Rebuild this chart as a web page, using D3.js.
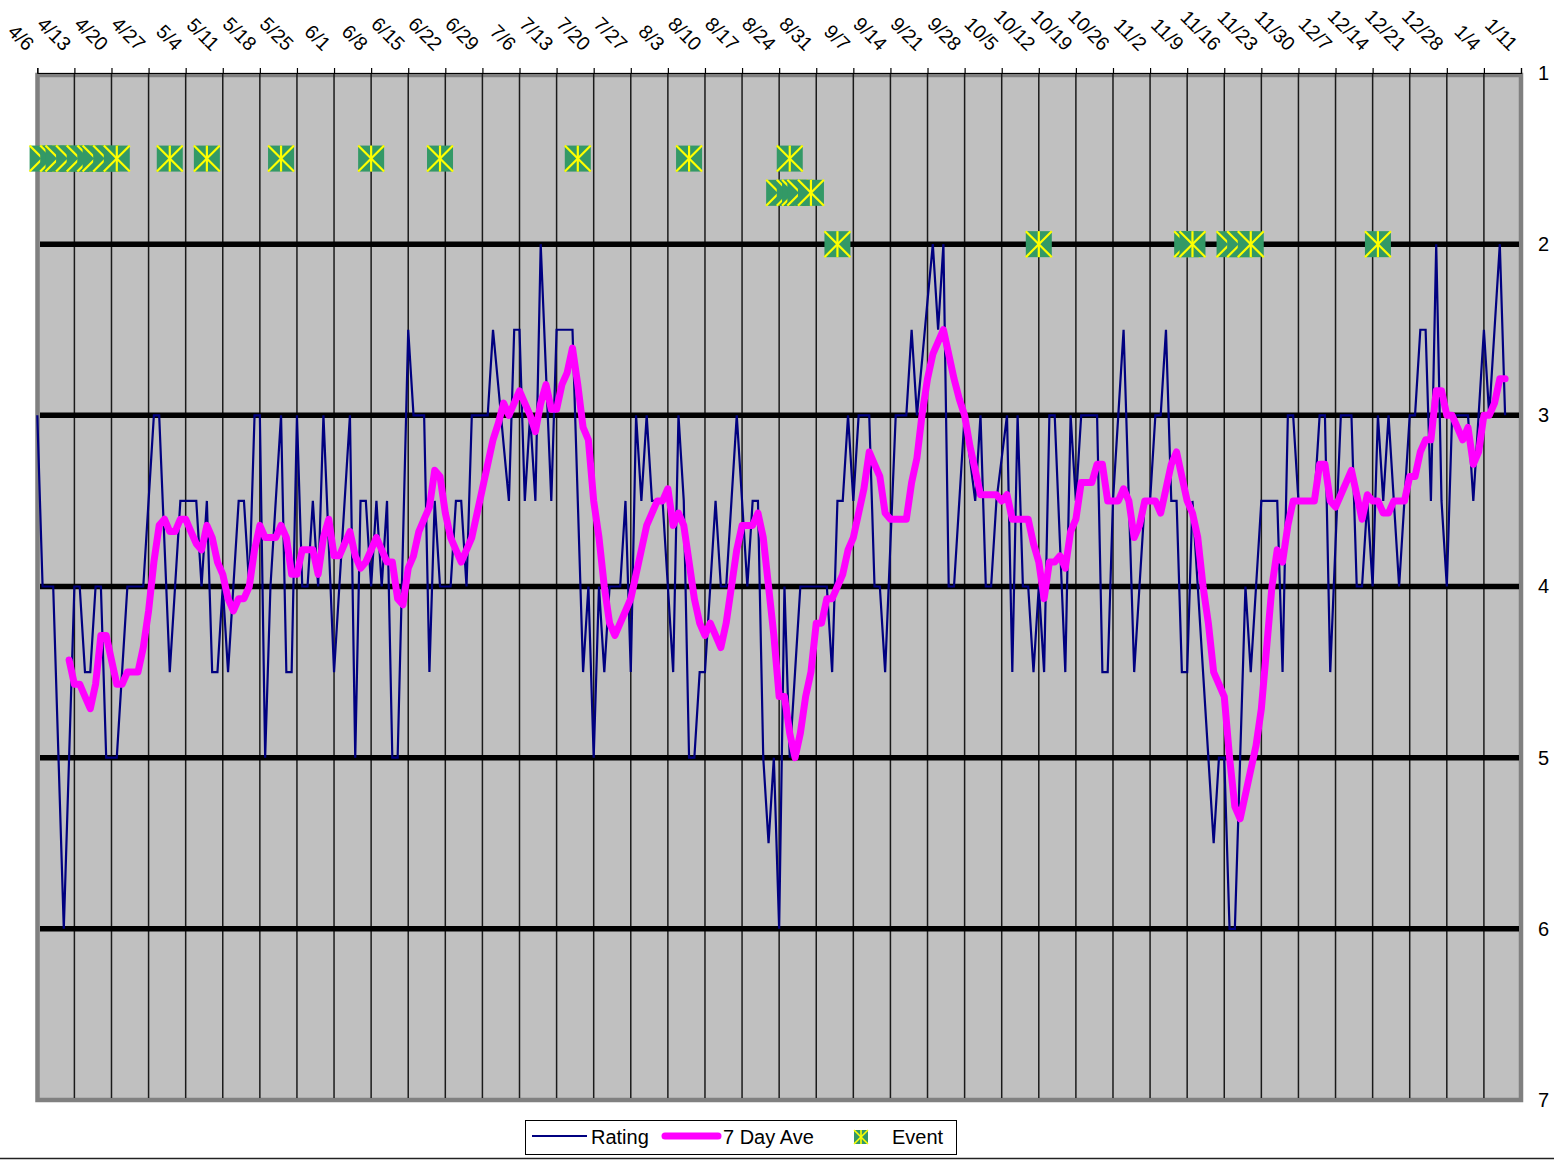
<!DOCTYPE html>
<html>
<head>
<meta charset="utf-8">
<script src="https://cdn.jsdelivr.net/npm/d3@7"></script>
<style>
  body { margin: 0; background: #fff; }
  svg { display: block; font-family: "Liberation Sans", Arial, sans-serif; }
</style>
</head>
<body>
<div id="chart"></div>
<script>
// first day of the daily series, one rating per day after that
const startDay = "2003-04-06";

const weekLabels = ["4/6", "4/13", "4/20", "4/27", "5/4", "5/11", "5/18", "5/25", "6/1", "6/8",
  "6/15", "6/22", "6/29", "7/6", "7/13", "7/20", "7/27", "8/3", "8/10", "8/17", "8/24", "8/31",
  "9/7", "9/14", "9/21", "9/28", "10/5", "10/12", "10/19", "10/26", "11/2", "11/9", "11/16",
  "11/23", "11/30", "12/7", "12/14", "12/21", "12/28", "1/4", "1/11"];

const yTicks = [1, 2, 3, 4, 5, 6, 7];
const gridValues = [2, 3, 4, 5, 6];

const ratings = [
  3, 4, 4, 4, 5, 6, 5, 4, 4, 4.5,
  4.5, 4, 4, 5, 5, 5, 4.5, 4, 4, 4,
  4, 3.5, 3, 3, 3.75, 4.5, 4, 3.5, 3.5, 3.5,
  3.5, 4, 3.5, 4.5, 4.5, 4, 4.5, 4, 3.5, 3.5,
  4, 3, 3, 5, 4, 3.5, 3, 4.5, 4.5, 3,
  4, 4, 3.5, 4, 3, 3.75, 4.5, 4, 3.5, 3,
  5, 3.5, 3.5, 4, 3.5, 4, 3.5, 5, 5, 3.75,
  2.5, 3, 3, 3, 4.5, 3.5, 4, 4, 4, 3.5,
  3.5, 4, 3, 3, 3, 3, 2.5, 2.83, 3.17, 3.5,
  2.5, 2.5, 3.5, 3, 3.5, 2, 2.75, 3.5, 2.5, 2.5,
  2.5, 2.5, 3.5, 4.5, 4, 5, 4, 4.5, 4, 4,
  4, 3.5, 4.5, 3, 3.5, 3, 3.5, 3.5, 3.5, 4,
  4.5, 3, 3.5, 5, 5, 4.5, 4.5, 4, 3.5, 4,
  4, 3.5, 3, 3.5, 4, 3.5, 3.5, 5, 5.5, 5,
  6, 4, 5, 4.5, 4, 4, 4, 4, 4, 4,
  4.5, 3.5, 3.5, 3, 3.5, 3, 3, 3, 4, 4,
  4.5, 3.75, 3, 3, 3, 2.5, 3, 2.67, 2.33, 2,
  2.5, 2, 4, 4, 3.5, 3, 3.25, 3.5, 3, 4,
  4, 3.5, 3.25, 3, 4.5, 3, 4, 4, 4.5, 4,
  4.5, 3, 3, 3.75, 4.5, 3, 3.5, 3, 3, 3,
  3, 4.5, 4.5, 3.5, 3, 2.5, 3.5, 4.5, 4, 3.5,
  3.5, 3, 3, 2.5, 3.5, 3.5, 4.5, 4.5, 3.5, 4,
  4.5, 5, 5.5, 5, 5, 6, 6, 5, 4, 4.5,
  4, 3.5, 3.5, 3.5, 3.5, 4.5, 3, 3, 3.5, 3.5,
  3.5, 3.5, 3, 3, 4.5, 3.75, 3, 3, 3, 4,
  4, 3.5, 4, 3, 3.5, 3, 3.5, 4, 3.5, 3,
  3, 2.5, 2.5, 3.5, 2, 3.5, 4, 3, 3, 3,
  3, 3.5, 3, 2.5, 3, 2.5, 2, 3
];

// 7 day average, same days as ratings (first six days have none)
const sevenDayAve = [
  null, null, null, null, null, null, 4.429, 4.571, 4.571, 4.643,
  4.714, 4.571, 4.286, 4.286, 4.429, 4.571, 4.571, 4.5, 4.5, 4.5,
  4.357, 4.143, 3.857, 3.643, 3.607, 3.679, 3.679, 3.607, 3.607, 3.679,
  3.75, 3.786, 3.643, 3.714, 3.857, 3.929, 4.071, 4.143, 4.071, 4.071,
  4.0, 3.786, 3.643, 3.714, 3.714, 3.714, 3.643, 3.714, 3.929, 3.929,
  3.786, 3.786, 3.786, 3.929, 3.714, 3.607, 3.821, 3.821, 3.75, 3.679,
  3.821, 3.893, 3.857, 3.786, 3.714, 3.786, 3.857, 3.857, 4.071, 4.107,
  3.893, 3.821, 3.679, 3.607, 3.536, 3.321, 3.357, 3.571, 3.714, 3.786,
  3.857, 3.786, 3.714, 3.571, 3.429, 3.286, 3.143, 3.047, 2.929, 3.0,
  2.929, 2.857, 2.929, 3.0, 3.095, 2.929, 2.821, 2.964, 2.964, 2.821,
  2.75, 2.607, 2.821, 3.071, 3.143, 3.5, 3.714, 4.0, 4.214, 4.286,
  4.214, 4.143, 4.071, 3.929, 3.786, 3.643, 3.571, 3.5, 3.5, 3.429,
  3.643, 3.571, 3.643, 3.857, 4.071, 4.214, 4.286, 4.214, 4.286, 4.357,
  4.214, 4.0, 3.786, 3.643, 3.643, 3.643, 3.571, 3.714, 4.0, 4.286,
  4.643, 4.643, 4.857, 5.0, 4.857, 4.643, 4.5, 4.214, 4.214, 4.071,
  4.071, 4.0, 3.929, 3.786, 3.714, 3.571, 3.429, 3.214, 3.286, 3.357,
  3.571, 3.607, 3.607, 3.607, 3.607, 3.393, 3.25, 2.988, 2.786, 2.643,
  2.571, 2.5, 2.643, 2.786, 2.905, 3.0, 3.179, 3.321, 3.464, 3.464,
  3.464, 3.464, 3.5, 3.464, 3.607, 3.607, 3.607, 3.607, 3.75, 3.857,
  4.071, 3.857, 3.857, 3.821, 3.893, 3.679, 3.607, 3.393, 3.393, 3.393,
  3.286, 3.286, 3.5, 3.5, 3.5, 3.429, 3.5, 3.714, 3.643, 3.5,
  3.5, 3.5, 3.571, 3.429, 3.286, 3.214, 3.357, 3.5, 3.571, 3.714,
  4.0, 4.214, 4.5, 4.571, 4.643, 5.0, 5.286, 5.357, 5.214, 5.071,
  4.929, 4.714, 4.357, 4.0, 3.786, 3.857, 3.643, 3.5, 3.5, 3.5,
  3.5, 3.5, 3.286, 3.286, 3.5, 3.536, 3.464, 3.393, 3.321, 3.464,
  3.607, 3.464, 3.5, 3.5, 3.571, 3.571, 3.5, 3.5, 3.5, 3.357,
  3.357, 3.214, 3.143, 3.143, 2.857, 2.857, 3.0, 3.0, 3.071, 3.143,
  3.071, 3.286, 3.214, 3.0, 3.0, 2.929, 2.786, 2.786
];

const eventDates = [
  "2003-04-07", "2003-04-09", "2003-04-10", "2003-04-12", "2003-04-14", "2003-04-16",
  "2003-04-17", "2003-04-19", "2003-04-21", "2003-05-01", "2003-05-08", "2003-05-22",
  "2003-06-08", "2003-06-21", "2003-07-17", "2003-08-07", "2003-08-26",
  "2003-08-24", "2003-08-26", "2003-08-27", "2003-08-28", "2003-08-30",
  "2003-09-04", "2003-10-12", "2003-11-09", "2003-11-10", "2003-11-17", "2003-11-19",
  "2003-11-21", "2003-12-15"
];
const eventLevels = [
  1.5, 1.5, 1.5, 1.5, 1.5, 1.5, 1.5, 1.5, 1.5, 1.5, 1.5, 1.5,
  1.5, 1.5, 1.5, 1.5, 1.5,
  1.7, 1.7, 1.7, 1.7, 1.7,
  2, 2, 2, 2, 2, 2, 2, 2
];

const width = 1554, height = 1161;
const svg = d3.select("#chart").append("svg")
  .attr("width", width)
  .attr("height", height);

const parseDay = d3.utcParse("%Y-%m-%d");
const t0 = parseDay(startDay);
const weeks = weekLabels.map((d, i) => d3.utcDay.offset(t0, i * 7));

const x = d3.scaleUtc()
  .domain([weeks[0], weeks[weeks.length - 1]])
  .range([37.3, 1521]);
const y = d3.scaleLinear().domain([1, 7]).range([73, 1100]);

const left = 37.5, right = 1521;

// plot area
svg.append("rect")
  .attr("x", left).attr("y", 75)
  .attr("width", right - left).attr("height", 1025)
  .attr("fill", "#c0c0c0")
  .attr("stroke", "#808080")
  .attr("stroke-width", 4.5);

// weekly lines
svg.append("g")
  .selectAll("line")
  .data(weeks.slice(1, -1))
  .enter()
  .append("line")
  .attr("x1", d => x(d)).attr("x2", d => x(d))
  .attr("y1", 73).attr("y2", 1098)
  .attr("stroke", "#1a1a1a")
  .attr("stroke-width", 1.5);

// thick horizontal lines
svg.append("g")
  .selectAll("line")
  .data(gridValues)
  .enter()
  .append("line")
  .attr("x1", 40).attr("x2", right - 2)
  .attr("y1", d => y(d)).attr("y2", d => y(d))
  .attr("stroke", "#000")
  .attr("stroke-width", 5.5);

const days = ratings.map((d, i) => d3.utcDay.offset(t0, i));

// rating line
svg.append("path")
  .datum(ratings)
  .attr("fill", "none")
  .attr("stroke", "#000080")
  .attr("stroke-width", 2.2)
  .attr("stroke-linejoin", "miter")
  .attr("d", d3.line().x((d, i) => x(days[i])).y(d => y(d)));

// 7 day average
svg.append("path")
  .datum(sevenDayAve)
  .attr("fill", "none")
  .attr("stroke", "#ff00ff")
  .attr("stroke-width", 7)
  .attr("stroke-linejoin", "round")
  .attr("stroke-linecap", "round")
  .attr("d", d3.line().defined(d => d != null).x((d, i) => x(days[i])).y(d => y(d)));

function drawMarker(g, size) {
  const h = size / 2;
  g.append("rect")
    .attr("x", -h).attr("y", -h)
    .attr("width", size).attr("height", size)
    .attr("fill", "#339966");
  const star = [[-h, -h, h, h], [-h, h, h, -h], [0, -h, 0, h]];
  star.forEach(s => {
    g.append("line")
      .attr("x1", s[0]).attr("y1", s[1]).attr("x2", s[2]).attr("y2", s[3])
      .attr("stroke", "#ffff00")
      .attr("stroke-width", size > 20 ? 2.2 : 1.6);
  });
}

// events
svg.append("g")
  .selectAll("g")
  .data(eventDates)
  .enter()
  .append("g")
  .attr("transform", (d, i) => "translate(" + x(parseDay(d)) + "," + y(eventLevels[i]) + ")")
  .each(function () { drawMarker(d3.select(this), 26); });

// top date axis
const xAxis = svg.append("g")
  .attr("transform", "translate(0,73)")
  .call(d3.axisTop(x).tickValues(weeks).tickSize(5).tickFormat((d, i) => weekLabels[i]));
xAxis.select(".domain").attr("stroke", "#000").attr("stroke-width", 1.2);
xAxis.selectAll(".tick line").attr("stroke", "#000").attr("stroke-width", 1.2);
xAxis.selectAll(".tick text")
  .attr("x", 0).attr("y", 0).attr("dy", 0)
  .attr("text-anchor", "end")
  .attr("transform", "translate(-12,-21) rotate(45)")
  .attr("fill", "#000")
  .style("font-family", "'Liberation Sans', Arial, sans-serif")
  .style("font-size", "19.5px");

// right value axis
const yAxis = svg.append("g")
  .attr("transform", "translate(" + right + ",0)")
  .call(d3.axisRight(y).tickValues(yTicks).tickSize(0).tickPadding(17).tickFormat(d3.format("d")));
yAxis.select(".domain").remove();
yAxis.selectAll(".tick text")
  .attr("fill", "#000")
  .style("font-family", "'Liberation Sans', Arial, sans-serif")
  .style("font-size", "20px");

// chart border bottom
svg.append("line")
  .attr("x1", 0).attr("x2", width)
  .attr("y1", 1158.5).attr("y2", 1158.5)
  .attr("stroke", "#222")
  .attr("stroke-width", 1.5);

// legend
const legend = svg.append("g").attr("font-size", 20);
legend.append("rect")
  .attr("x", 525.5).attr("y", 1120.5)
  .attr("width", 431).attr("height", 34)
  .attr("fill", "#fff")
  .attr("stroke", "#000")
  .attr("stroke-width", 1);
legend.append("line")
  .attr("x1", 532).attr("x2", 587).attr("y1", 1136).attr("y2", 1136)
  .attr("stroke", "#000080").attr("stroke-width", 2.2);
legend.append("text").attr("x", 591).attr("y", 1144).text("Rating");
legend.append("line")
  .attr("x1", 665).attr("x2", 718).attr("y1", 1136).attr("y2", 1136)
  .attr("stroke", "#ff00ff").attr("stroke-width", 7).attr("stroke-linecap", "round");
legend.append("text").attr("x", 723).attr("y", 1144).text("7 Day Ave");
drawMarker(legend.append("g").attr("transform", "translate(861,1137)"), 14);
legend.append("text").attr("x", 892).attr("y", 1144).text("Event");
</script>
</body>
</html>
